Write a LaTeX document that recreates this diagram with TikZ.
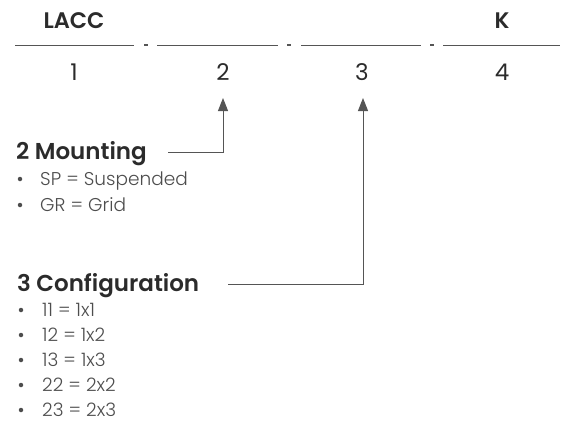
\documentclass[tikz,border=0pt]{standalone}
\usepackage{fontspec}
\setmainfont{Poppins}[BoldFont=* SemiBold]
\newfontfamily\lightfont{Poppins}[UprightFont=* Light]
\usetikzlibrary{arrows.meta}
\definecolor{ink}{HTML}{2B2B2B}
\definecolor{soft}{HTML}{4D4D4D}
\definecolor{rule}{HTML}{555555}
\begin{document}
\begin{tikzpicture}[x=1pt,y=-1pt,
    code/.style={font=\fontsize{22.5}{24}\selectfont\bfseries, text=ink, inner sep=0pt, anchor=base},
    digit/.style={font=\fontsize{23}{24}\selectfont, text=ink, inner sep=0pt, anchor=base},
    head/.style={font=\fontsize{23}{26}\selectfont\bfseries, text=ink, inner sep=0pt, anchor=base west},
    item/.style={font=\fontsize{18.5}{20}\selectfont\lightfont, text=soft, inner sep=0pt, anchor=base west},
    dot/.style={circle, fill=soft, inner sep=0pt, minimum size=4.5pt},
    blank/.style={draw=rule, line width=0.9pt},
    arr/.style={draw=rule, line width=1pt, -{Triangle[width=10pt,length=13pt]}}]
    \useasboundingbox (0,0) rectangle (561,423);

    % code line
    \node[code] (c1) at (74,28) {LACC};
    \node[code] (c4) at (502,28) {K};
    \draw[blank] (15,45) -- (134,45);
    \draw[blank] (157,45) -- (278,45);
    \draw[blank] (301,45) -- (421,45);
    \draw[blank] (443,45) -- (560,45);
    \draw[blank, line width=1.3pt] (144,45) -- (148,45);
    \draw[blank, line width=1.3pt] (287,45) -- (291,45);
    \draw[blank, line width=1.3pt] (430,45) -- (434,45);
    \node[digit] (n1) at (74,80) {1};
    \node[digit] (n2) at (223,80) {2};
    \node[digit] (n3) at (362,80) {3};
    \node[digit] (n4) at (502,80) {4};
    \coordinate (t2) at (223,98);
    \coordinate (t3) at (363,98);

    % mounting
    \node[head] (mount) at (16,159) {2 Mounting};
    \node[dot] at (20,179) {};
    \node[item] (sp) at (40,185) {SP = Suspended};
    \node[dot] at (20,205) {};
    \node[item] (gr) at (40,211) {GR = Grid};
    \coordinate (m2) at (168,152);

    % configuration
    \node[head] (config) at (17,291) {3 Configuration};
    \foreach \y/\txt in {316/{11 = 1x1}, 341/{12 = 1x2}, 366/{13 = 1x3}, 391/{22 = 2x2}, 416/{23 = 2x3}} {
        \node[dot] at (21,\y-6) {};
        \node[item] at (42,\y) {\txt};
    }
    \coordinate (m3) at (228,284);

    \draw[arr] (m2) -| (t2);
    \draw[arr] (m3) -| (t3);
\end{tikzpicture}
\end{document}
